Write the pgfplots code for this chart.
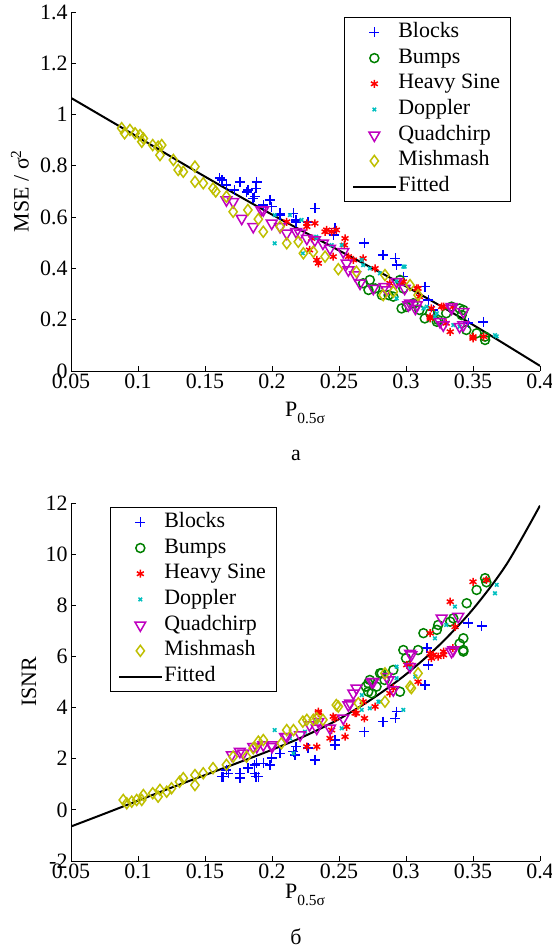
\documentclass[border=0pt]{standalone}
\usepackage{fontspec}
\setmainfont{Liberation Serif}
\usepackage{pgfplots}
\pgfplotsset{compat=1.18}
\definecolor{mblue}{rgb}{0,0,1}
\definecolor{mgreen}{rgb}{0,0.5,0}
\definecolor{mred}{rgb}{1,0,0}
\definecolor{mcyan}{rgb}{0,0.75,0.75}
\definecolor{mmag}{rgb}{0.75,0,0.75}
\definecolor{myel}{rgb}{0.75,0.75,0}
\newcommand{\myfs}{\fontsize{22}{26}\selectfont}
\newcommand{\mysub}{\fontsize{15.5}{18}\selectfont}
\pgfplotsset{
  every axis/.append style={font=\myfs},
  myax/.style={
    width=469bp, scale only axis,
    xmin=0.05, xmax=0.4,
    axis lines=left, axis line style={-, line width=0.8bp},
    x axis line style={-}, y axis line style={-},
    tick align=inside, major tick length=5bp,
    every tick/.style={black, line width=0.8bp},
    xtick={0.05,0.1,0.15,0.2,0.25,0.3,0.35,0.4},
    xticklabels={0.05,0.1,0.15,0.2,0.25,0.3,0.35,0.4},
    /pgf/number format/assume math mode=true,
    tick label style={font=\myfs},
    xticklabel style={yshift=1bp},
    legend cell align=left,
    legend image code/.code={\draw[mark repeat=2,mark phase=2,#1] plot coordinates {(0bp,0bp) (21bp,0bp) (42bp,0bp)};},
    legend style={draw=black, line width=0.8bp, fill=white,
      font=\myfs,
      inner xsep=8bp, inner ysep=3bp, row sep=1.7bp,
      nodes={inner sep=2bp, anchor=west, font=\myfs, text height=15bp, text depth=5bp}},
  },
  sB/.style={only marks, mark=+, mark size=5bp, color=mblue, mark options={line width=1.5bp}},
  sU/.style={only marks, mark=o, mark size=4.5bp, color=mgreen, mark options={line width=1.5bp}},
  sH/.style={only marks, mark=asterisk, mark size=4bp, color=mred, mark options={line width=1.5bp}},
  sD/.style={only marks, mark=x, mark size=2.5bp, color=mcyan, mark options={line width=1.5bp}},
  sQ/.style={only marks, mark=triangle, mark size=6.2bp, color=mmag, mark options={line width=1.5bp, rotate=180}},
  sM/.style={only marks, mark=diamond, mark size=5.5bp, color=myel, mark options={line width=1.5bp}},
  sF/.style={black, line width=2bp, no marks, smooth},
}
\begin{document}
\begin{tikzpicture}
\path[use as bounding box] (-71bp,-579bp) rectangle (481bp,371bp);
% ---------- top panel ----------
\begin{axis}[myax, height=359bp, ymin=0, ymax=1.4,
  ytick={0,0.2,0.4,0.6,0.8,1,1.2,1.4},
  yticklabels={0,0.2,0.4,0.6,0.8,1,1.2,1.4},
  legend style={at={(0.582,0.986)}, anchor=north west}]
\addplot[sB] coordinates {(0.161,0.752)(0.1625,0.745)(0.166,0.725)(0.172,0.706)(0.176,0.738)(0.181,0.699)(0.182,0.706)(0.187,0.680)(0.1886,0.738)(0.188,0.712)(0.186,0.673)(0.1935,0.647)(0.1985,0.667)(0.1998,0.641)(0.206,0.615)(0.206,0.608)(0.216,0.615)(0.218,0.582)(0.218,0.589)(0.227,0.582)(0.232,0.634)(0.247,0.556)(0.246,0.530)(0.269,0.500)(0.283,0.452)(0.292,0.439)(0.293,0.413)(0.298,0.368)(0.314,0.329)(0.3167,0.277)(0.3204,0.238)(0.3465,0.188)(0.3577,0.192)};
\addlegendentry{Blocks}
\addplot[sU] coordinates {(0.268,0.342)(0.272,0.316)(0.273,0.355)(0.277,0.322)(0.282,0.296)(0.287,0.296)(0.2905,0.290)(0.2955,0.355)(0.298,0.322)(0.2967,0.244)(0.3005,0.250)(0.3055,0.264)(0.310,0.238)(0.314,0.205)(0.318,0.225)(0.323,0.192)(0.324,0.199)(0.330,0.225)(0.334,0.251)(0.340,0.244)(0.3428,0.238)(0.3416,0.218)(0.345,0.160)(0.3527,0.147)(0.359,0.134)(0.359,0.121)};
\addlegendentry{Bumps}
\addplot[sH] coordinates {(0.211,0.582)(0.226,0.576)(0.226,0.563)(0.232,0.576)(0.2296,0.517)(0.228,0.472)(0.2334,0.433)(0.2346,0.42)(0.2396,0.543)(0.2408,0.550)(0.2445,0.543)(0.248,0.550)(0.2457,0.446)(0.2545,0.517)(0.254,0.491)(0.257,0.446)(0.2607,0.433)(0.268,0.439)(0.2769,0.400)(0.288,0.342)(0.2955,0.342)(0.298,0.348)(0.308,0.322)(0.309,0.322)(0.310,0.29)(0.318,0.212)(0.319,0.244)(0.3266,0.251)(0.328,0.251)(0.335,0.25)(0.330,0.186)(0.333,0.153)(0.318,0.205)(0.350,0.134)(0.350,0.127)(0.358,0.134)};
\addlegendentry{Heavy Sine}
\addplot[sD] coordinates {(0.202,0.498)(0.202,0.608)(0.2134,0.608)(0.222,0.589)(0.223,0.459)(0.233,0.524)(0.2334,0.517)(0.2445,0.491)(0.252,0.491)(0.267,0.433)(0.268,0.413)(0.273,0.40)(0.2806,0.381)(0.293,0.35)(0.293,0.283)(0.298,0.407)(0.299,0.407)(0.313,0.244)(0.3155,0.251)(0.3216,0.212)(0.323,0.225)(0.3353,0.179)(0.340,0.173)(0.3664,0.140)(0.3677,0.135)};
\addlegendentry{Doppler}
\addplot[sQ] coordinates {(0.166,0.667)(0.171,0.660)(0.1774,0.595)(0.186,0.563)(0.192,0.628)(0.1935,0.628)(0.1998,0.576)(0.206,0.563)(0.211,0.537)(0.218,0.543)(0.221,0.537)(0.226,0.517)(0.232,0.511)(0.238,0.498)(0.2433,0.478)(0.2532,0.465)(0.2557,0.42)(0.257,0.394)(0.262,0.374)(0.2657,0.342)(0.2756,0.322)(0.284,0.329)(0.2856,0.316)(0.293,0.348)(0.299,0.322)(0.3017,0.257)(0.303,0.264)(0.307,0.244)(0.308,0.257)(0.3254,0.192)(0.3278,0.179)(0.334,0.244)(0.334,0.251)(0.3428,0.179)(0.3428,0.231)(0.340,0.173)};
\addlegendentry{Quadchirp}
\addplot[sM] coordinates {(0.0878,0.947)(0.090,0.927)(0.094,0.94)(0.0978,0.927)(0.1015,0.920)(0.1028,0.894)(0.104,0.907)(0.111,0.881)(0.115,0.875)(0.1164,0.842)(0.1177,0.881)(0.1264,0.823)(0.130,0.784)(0.1338,0.777)(0.1425,0.797)(0.1425,0.738)(0.1487,0.732)(0.156,0.712)(0.158,0.70)(0.166,0.680)(0.171,0.621)(0.182,0.628)(0.1898,0.592)(0.1935,0.543)(0.206,0.563)(0.211,0.498)(0.2196,0.504)(0.2234,0.459)(0.2308,0.465)(0.2396,0.446)(0.2495,0.397)(0.263,0.387)(0.2843,0.374)(0.283,0.296)(0.2905,0.309)(0.303,0.335)(0.309,0.296)};
\addlegendentry{Mishmash}
\addplot[sF] coordinates {(0.05,1.065)(0.1,0.912)(0.15,0.758)(0.2,0.61)(0.25,0.47)(0.3,0.33)(0.35,0.18)(0.4,0.02)};
\addlegendentry{Fitted}
\end{axis}
% ---------- bottom panel ----------
\begin{axis}[myax, at={(0bp,-490bp)}, height=358bp, ymin=-2, ymax=12,
  ytick={-2,0,2,4,6,8,10,12},
  yticklabels={-2,0,2,4,6,8,10,12},
  legend style={at={(0.083,0.989)}, anchor=north west}]
\addplot[sB] coordinates {(0.1625,1.30)(0.1637,1.30)(0.166,1.56)(0.1674,1.43)(0.176,1.43)(0.176,1.24)(0.182,1.63)(0.187,1.43)(0.188,1.30)(0.187,1.76)(0.1886,1.82)(0.1898,1.30)(0.1935,1.82)(0.1985,1.76)(0.1998,2.02)(0.206,2.21)(0.216,2.28)(0.217,2.15)(0.218,2.47)(0.227,2.41)(0.232,1.95)(0.247,2.73)(0.247,2.54)(0.269,3.06)(0.283,3.45)(0.292,3.58)(0.293,3.84)(0.314,4.88)(0.3167,5.67)(0.3155,6.32)(0.3465,7.30)(0.3565,7.19)};
\addlegendentry{Blocks}
\addplot[sU] coordinates {(0.2718,4.95)(0.2744,4.56)(0.2718,4.62)(0.27,4.82)(0.278,4.82)(0.273,5.08)(0.2806,5.34)(0.2818,5.34)(0.284,5.08)(0.2905,5.47)(0.2955,4.62)(0.298,6.25)(0.300,5.93)(0.309,6.25)(0.313,6.91)(0.323,7.04)(0.324,7.23)(0.333,7.36)(0.3353,7.49)(0.3428,6.71)(0.3428,6.25)(0.3428,6.19)(0.340,6.5)(0.3453,8.08)(0.3527,8.60)(0.359,9.06)(0.360,8.9)};
\addlegendentry{Bumps}
\addplot[sH] coordinates {(0.226,2.47)(0.2334,2.47)(0.2346,3.78)(0.2346,3.84)(0.2433,2.80)(0.2445,3.12)(0.247,3.58)(0.2457,3.65)(0.2545,2.86)(0.2557,3.25)(0.262,3.78)(0.263,3.78)(0.269,3.58)(0.268,4.23)(0.2769,4.04)(0.288,4.56)(0.2905,4.76)(0.3006,5.67)(0.303,5.67)(0.309,5.01)(0.318,6.12)(0.319,5.93)(0.3204,6.06)(0.324,5.99)(0.328,6.06)(0.328,6.19)(0.335,6.32)(0.318,6.91)(0.3366,7.16)(0.333,8.14)(0.350,8.92)(0.360,8.99)};
\addlegendentry{Heavy Sine}
\addplot[sD] coordinates {(0.202,3.12)(0.2134,2.80)(0.216,2.21)(0.2246,3.06)(0.2334,3.45)(0.252,3.19)(0.267,3.91)(0.267,4.49)(0.273,3.97)(0.2794,4.23)(0.2806,4.23)(0.293,5.15)(0.293,5.60)(0.298,3.91)(0.303,5.54)(0.307,5.21)(0.3216,6.71)(0.330,7.23)(0.3365,7.95)(0.3664,8.47)(0.3677,8.80)};
\addlegendentry{Doppler}
\addplot[sQ] coordinates {(0.170,2.15)(0.176,2.28)(0.1786,2.21)(0.186,2.47)(0.1886,2.47)(0.1935,2.54)(0.1998,2.54)(0.2,2.47)(0.2097,2.86)(0.211,2.86)(0.221,2.93)(0.228,3.32)(0.2334,3.19)(0.2346,3.45)(0.2433,3.19)(0.2532,3.58)(0.257,4.10)(0.2583,4.17)(0.2607,4.56)(0.263,4.76)(0.2744,5.01)(0.2756,5.01)(0.2856,5.21)(0.287,5.08)(0.2905,4.69)(0.303,6.12)(0.303,5.60)(0.304,6.06)(0.3266,7.49)(0.334,6.19)(0.3353,6.25)(0.339,7.56)};
\addlegendentry{Quadchirp}
\addplot[sM] coordinates {(0.089,0.387)(0.0916,0.258)(0.0953,0.32)(0.099,0.387)(0.1028,0.387)(0.104,0.58)(0.111,0.65)(0.115,0.516)(0.1164,0.78)(0.1214,0.71)(0.125,0.845)(0.131,1.10)(0.1338,1.24)(0.1425,1.36)(0.1425,0.97)(0.1487,1.43)(0.156,1.63)(0.166,1.76)(0.171,2.08)(0.181,2.08)(0.186,2.41)(0.1898,2.67)(0.1935,2.73)(0.207,2.60)(0.211,3.12)(0.216,3.12)(0.223,3.45)(0.226,3.52)(0.2308,3.52)(0.2334,3.58)(0.238,3.52)(0.248,4.10)(0.2495,4.04)(0.2644,4.17)(0.2843,4.23)(0.2843,5.34)(0.303,4.82)(0.304,4.76)(0.309,5.34)};
\addlegendentry{Mishmash}
\addplot[sF] coordinates {(0.05,-0.65)(0.075,-0.15)(0.1,0.36)(0.125,0.87)(0.15,1.36)(0.175,1.85)(0.2,2.35)(0.225,2.9)(0.25,3.55)(0.275,4.35)(0.3,5.3)(0.325,6.45)(0.35,7.85)(0.375,9.6)(0.4,11.9)};
\addlegendentry{Fitted}
\end{axis}
% ---------- labels ----------
\node[font=\myfs, rotate=90] at (-51bp,180bp) {MSE / σ\textsuperscript{2}};
\node[font=\myfs, rotate=90] at (-42bp,-311bp) {ISNR};
\node[font=\myfs] at (234bp,-42bp) {P\raisebox{-7bp}{\mysub 0.5σ}};
\node[font=\myfs] at (234bp,-524bp) {P\raisebox{-7bp}{\mysub 0.5σ}};
\node[font=\myfs] at (225bp,-84bp) {а};
\node[font=\myfs] at (225bp,-566bp) {б};
\end{tikzpicture}
\end{document}
